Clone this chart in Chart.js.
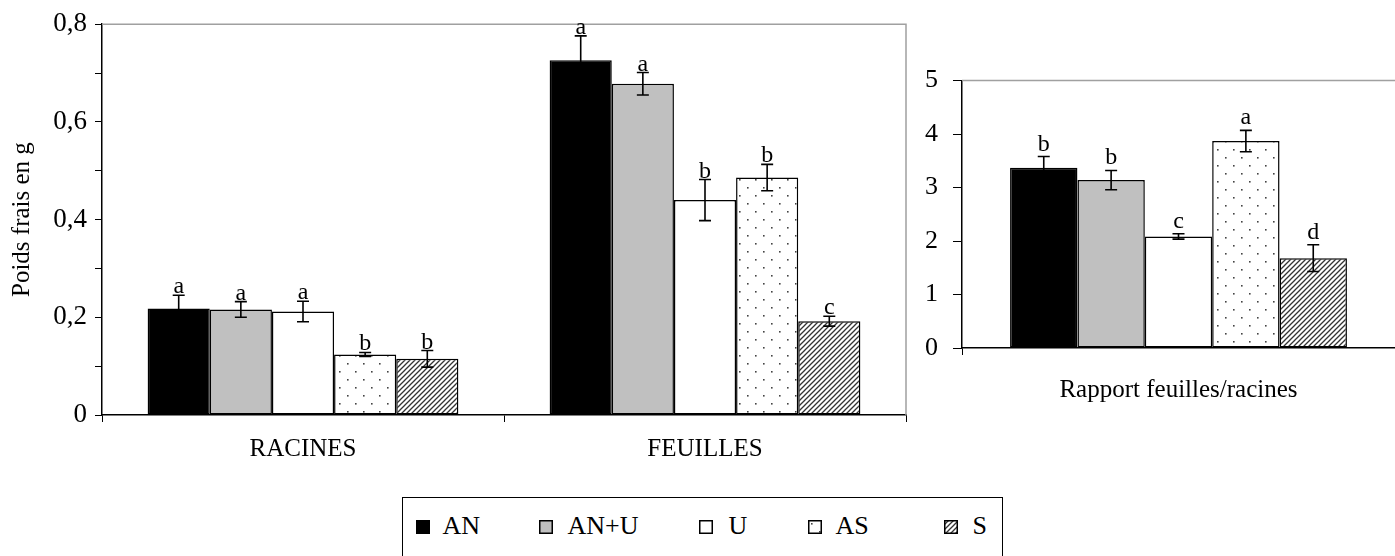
<!DOCTYPE html>
<html>
<head>
<meta charset="utf-8">
<script src="https://cdn.jsdelivr.net/npm/chart.js@4.4.0/dist/chart.umd.min.js"></script>
<style>
  body { margin: 0; background: #fff; width: 1395px; height: 556px; overflow: hidden; position: relative; font-family: "Liberation Serif", "Times New Roman", serif; }
  #left { position: absolute; left: 0; top: 0; }
  #right { position: absolute; left: 910px; top: 50px; }
  #legend { position: absolute; left: 402px; top: 497px; width: 601px; height: 80px; border: 1.5px solid #000; box-sizing: border-box; }
  #legend canvas { position: absolute; top: 21.5px; }
  #legend span { position: absolute; top: 13px; font-size: 26px; line-height: 30px; color: #000; }
</style>
</head>
<body>
<canvas id="left" width="920" height="480"></canvas>
<canvas id="right" width="485" height="370"></canvas>
<div id="legend"></div>

<script>
// categories and treatments
const categories = ['RACINES', 'FEUILLES'];
const ratioCategory = ['Rapport feuilles/racines'];
const treatments = ['AN', 'AN+U', 'U', 'AS', 'S'];

// fresh weight (g) per treatment: [RACINES, FEUILLES]
const weightAN   = [0.218, 0.726];
const weightANU  = [0.216, 0.678];
const weightU    = [0.212, 0.440];
const weightAS   = [0.124, 0.486];
const weightS    = [0.115, 0.192];
// error (±) per treatment
const errAN  = [0.027, 0.050];
const errANU = [0.016, 0.023];
const errU   = [0.021, 0.042];
const errAS  = [0.004, 0.027];
const errS   = [0.017, 0.010];
// significance letters per treatment
const letAN  = ['a', 'a'];
const letANU = ['a', 'a'];
const letU   = ['a', 'b'];
const letAS  = ['b', 'b'];
const letS   = ['b', 'c'];

// leaves/roots ratio per treatment
const ratioValues  = [3.37, 3.14, 2.085, 3.87, 1.68];
const ratioErrors  = [0.21, 0.18, 0.05, 0.20, 0.25];
const ratioLetters = ['b', 'b', 'c', 'a', 'd'];

// tick labels
const leftTickLabels  = ['0', '', '0,2', '', '0,4', '', '0,6', '', '0,8'];
const rightTickLabels = ['0', '1', '2', '3', '4', '5'];

const FONT = '"Liberation Serif", "Times New Roman", serif';

function dotPattern() {
  const c = document.createElement('canvas');
  c.width = 16; c.height = 16;
  const g = c.getContext('2d');
  g.fillStyle = '#fff'; g.fillRect(0, 0, 16, 16);
  g.fillStyle = '#444';
  g.fillRect(3, 3, 1.6, 1.6);
  g.fillRect(11, 11, 1.6, 1.6);
  return g.createPattern(c, 'repeat');
}

function hatchPattern() {
  const s = 5;
  const c = document.createElement('canvas');
  c.width = s; c.height = s;
  const g = c.getContext('2d');
  g.fillStyle = '#fff'; g.fillRect(0, 0, s, s);
  g.strokeStyle = '#333'; g.lineWidth = 1.3;
  g.beginPath();
  g.moveTo(0, s); g.lineTo(s, 0);
  g.moveTo(-1, 1); g.lineTo(1, -1);
  g.moveTo(s - 1, s + 1); g.lineTo(s + 1, s - 1);
  g.stroke();
  return g.createPattern(c, 'repeat');
}

const fills = ['#000000', '#c0c0c0', '#ffffff', dotPattern(), hatchPattern()];

function errorPlugin(errors, letters, gap, font) {
  return {
    id: 'errorBars',
    afterDatasetsDraw(chart) {
      const ctx = chart.ctx;
      const y = chart.scales.y;
      chart.data.datasets.forEach((ds, i) => {
        chart.getDatasetMeta(i).data.forEach((bar, j) => {
          const v = ds.data[j], e = errors[i][j];
          const top = y.getPixelForValue(v + e);
          const bot = y.getPixelForValue(v - e);
          ctx.save();
          ctx.strokeStyle = '#000';
          ctx.lineWidth = 1.6;
          ctx.beginPath();
          ctx.moveTo(bar.x, top); ctx.lineTo(bar.x, bot);
          ctx.moveTo(bar.x - 6, top); ctx.lineTo(bar.x + 6, top);
          ctx.moveTo(bar.x - 6, bot); ctx.lineTo(bar.x + 6, bot);
          ctx.stroke();
          ctx.fillStyle = '#000';
          ctx.font = font;
          ctx.textAlign = 'center';
          ctx.textBaseline = 'alphabetic';
          ctx.fillText(letters[i][j], bar.x, top - gap);
          ctx.restore();
        });
      });
    }
  };
}

function framePlugin(drawRight) {
  return {
    id: 'frame',
    beforeDatasetsDraw(chart) {
      const {ctx, chartArea: a} = chart;
      ctx.save();
      ctx.strokeStyle = '#a0a0a0';
      ctx.lineWidth = 1.5;
      ctx.beginPath();
      ctx.moveTo(a.left, a.top); ctx.lineTo(a.right, a.top);
      if (drawRight) ctx.lineTo(a.right, a.bottom);
      ctx.stroke();
      ctx.restore();
    }
  };
}

function barDatasets(values) {
  return treatments.map((t, i) => ({
    label: t,
    data: values[i],
    backgroundColor: fills[i],
    borderColor: '#000',
    borderWidth: 1.5,
    borderSkipped: false,
    barPercentage: 1.0
  }));
}

// left chart: fresh weight
new Chart(document.getElementById('left'), {
  type: 'bar',
  data: {
    labels: categories,
    datasets: barDatasets([weightAN, weightANU, weightU, weightAS, weightS])
      .map(d => ({ ...d, categoryPercentage: 0.773 }))
  },
  options: {
    responsive: false,
    animation: false,
    layout: { padding: { top: 22, right: 14, left: 0, bottom: 0 } },
    plugins: { legend: { display: false }, tooltip: { enabled: false } },
    scales: {
      x: {
        grid: { drawOnChartArea: false, offset: true, tickLength: 7, color: '#000' },
        border: { color: '#000', width: 1.5 },
        ticks: { color: '#000', padding: 12, font: { family: FONT, size: 25 } },
        afterFit: s => { s.height = 65; }
      },
      y: {
        min: 0, max: 0.8,
        grid: { drawOnChartArea: false, tickLength: 7, color: '#000' },
        border: { color: '#000', width: 1.5 },
        ticks: {
          stepSize: 0.1, color: '#000', padding: 8,
          font: { family: FONT, size: 27 },
          callback: (v, i) => leftTickLabels[i]
        },
        title: {
          display: true, text: 'Poids frais en g', color: '#000',
          font: { family: FONT, size: 25 }, padding: { top: 7, bottom: 0 }
        },
        afterFit: s => { s.width = 102; }
      }
    }
  },
  plugins: [
    framePlugin(true),
    errorPlugin([errAN, errANU, errU, errAS, errS], [letAN, letANU, letU, letAS, letS], 2, '24px ' + FONT)
  ]
});

// right chart: leaves/roots ratio
new Chart(document.getElementById('right'), {
  type: 'bar',
  data: {
    labels: ratioCategory,
    datasets: barDatasets(ratioValues.map(v => [v]))
      .map(d => ({ ...d, categoryPercentage: 0.778 }))
  },
  options: {
    responsive: false,
    animation: false,
    layout: { padding: { top: 25, right: 0, left: 0, bottom: 0 } },
    plugins: { legend: { display: false }, tooltip: { enabled: false } },
    scales: {
      x: {
        grid: { drawOnChartArea: false, offset: true, tickLength: 7, color: '#000' },
        border: { color: '#000', width: 1.5 },
        ticks: { color: '#000', padding: 20, font: { family: FONT, size: 25 } },
        afterFit: s => { s.height = 72; }
      },
      y: {
        min: 0, max: 5,
        grid: { drawOnChartArea: false, tickLength: 9, color: '#000' },
        border: { color: '#000', width: 1.5 },
        ticks: {
          stepSize: 1, color: '#000', padding: 15,
          font: { family: FONT, size: 26 },
          callback: (v, i) => rightTickLabels[i]
        },
        afterFit: s => { s.width = 52; }
      }
    }
  },
  plugins: [
    framePlugin(false),
    errorPlugin(ratioErrors.map(e => [e]), ratioLetters.map(l => [l]), 6, '24px ' + FONT)
  ]
});

// legend
const legend = document.getElementById('legend');
const boxX = [12.5, 135.5, 295.5, 404.5, 540.5];
const textX = [39.5, 164.5, 325.5, 432.5, 569.5];
treatments.forEach((t, i) => {
  const c = document.createElement('canvas');
  c.width = 14; c.height = 14;
  c.style.left = boxX[i] + 'px';
  const g = c.getContext('2d');
  g.fillStyle = fills[i];
  g.fillRect(0, 0, 14, 14);
  g.strokeStyle = '#000'; g.lineWidth = 1.5;
  g.strokeRect(0.75, 0.75, 12.5, 12.5);
  legend.appendChild(c);
  const s = document.createElement('span');
  s.textContent = t;
  s.style.left = textX[i] + 'px';
  legend.appendChild(s);
});
</script>
</body>
</html>
